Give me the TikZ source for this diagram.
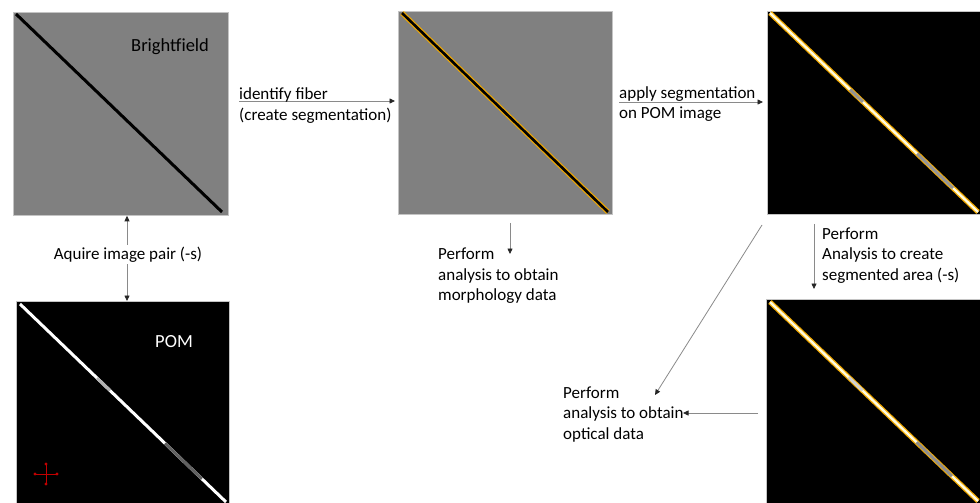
\documentclass[tikz,border=0pt]{standalone}
\usepackage{fontspec}
\setmainfont{Carlito}
\usetikzlibrary{arrows.meta,calc}
\definecolor{panelgray}{HTML}{808080}
\definecolor{framegray}{HTML}{C4C4C4}
\definecolor{segorange}{HTML}{F0A800}
\definecolor{coreyellow}{HTML}{FFFCE0}
\definecolor{arrowgray}{HTML}{8A8A8A}
\definecolor{crossred}{HTML}{C00000}
\begin{document}
\begin{tikzpicture}[x=1pt,y=-1pt,
  panel/.style={draw=framegray, line width=0.8pt, inner sep=0pt, anchor=north west},
  lbl/.style={font=\fontsize{17}{20.5}\selectfont, align=left, anchor=base west, inner sep=0pt},
  ttl/.style={font=\fontsize{18.5}{22}\selectfont, anchor=base west, inner sep=0pt},
  tip/.tip={Triangle[length=5.5pt,width=5pt,color=black!85]},
  arr/.style={draw=arrowgray, line width=0.8pt, -tip},
  fibout/.style={segorange, line width=5pt},
  fibcore/.style={coreyellow, line width=2.4pt},
  segcore/.style={line width=3pt},
]
\useasboundingbox (0,0) rectangle (980,503);

% panels
\node[panel, fill=panelgray, minimum width=215pt, minimum height=203pt] (bf) at (13,12) {};
\node[panel, fill=panelgray, minimum width=214pt, minimum height=203pt] (seg) at (398,11) {};
\node[panel, fill=black, minimum width=213pt, minimum height=203pt] (pomseg) at (767,11) {};
\node[panel, fill=black, minimum width=213pt, minimum height=202pt] (pom) at (16,301) {};
\node[panel, fill=black, minimum width=214pt, minimum height=204pt] (area) at (766,299) {};

% brightfield fiber
\draw[black, line width=3pt] (16,14) -- (222,212);

% segmented fiber
\draw[fibout] (402,13) -- (608,212);
\draw[black, line width=2.6pt] (402,13) -- (608,212);

% POM fiber
\coordinate (pa) at (20,304); \coordinate (pb) at (226,502);
\draw[white, line width=3pt] (pa) -- (pb);
\draw[black!30, line width=3pt] ($(pa)!0.374!(pb)$) -- ($(pa)!0.437!(pb)$);
\draw[black!62, line width=3pt] ($(pa)!0.704!(pb)$) -- ($(pa)!0.883!(pb)$);

% segmentation on POM
\coordinate (sa) at (770,13); \coordinate (sb) at (978,212);
\draw[fibout] (sa) -- (sb);
\draw[fibcore] (sa) -- (sb);
\draw[segcore, black!42] ($(sa)!0.385!(sb)$) -- ($(sa)!0.447!(sb)$);
\draw[segcore, black!42] ($(sa)!0.707!(sb)$) -- ($(sa)!0.880!(sb)$);

% segmented area
\coordinate (ta) at (770,302); \coordinate (tb) at (978,501);
\draw[fibout] (ta) -- (tb);
\draw[fibcore] (ta) -- (tb);
\draw[segcore, black!18] ($(ta)!0.378!(tb)$) -- ($(ta)!0.445!(tb)$);
\draw[segcore, black!45] ($(ta)!0.705!(tb)$) -- ($(ta)!0.875!(tb)$);

% crosshair
\draw[crossred, line width=0.9pt] (35,474) -- (57,474) (46,464) -- (46,484);
\foreach \p in {(35,474),(57,474),(46,464),(46,484)} \fill[crossred] \p circle (1.6pt);

% titles
\node[ttl, text=black] (bft) at (131,52) {Brightfield};
\node[ttl, text=white] (pomt) at (155,347) {POM};

% connectors
\coordinate (ax) at (127,0);
\draw[arr, tip-tip] (bf.south -| ax) -- (pom.north -| ax);
\node[lbl, fill=white, inner sep=2pt, anchor=base] (l0) at (128,259) {Aquire image pair (-s)};

\coordinate (a1s) at (239,101);
\draw[arr, shorten >=3pt] (a1s) -- (seg.west |- a1s);
\coordinate (a2s) at (619,102);
\draw[arr, shorten >=4pt] (a2s) -- (pomseg.west |- a2s);

\coordinate (a3e) at (510,254);
\draw[arr, shorten <=8pt] (seg.south -| a3e) -- (a3e);

\coordinate (a4) at (814,0);
\draw[arr, shorten <=9pt, shorten >=10pt] (pomseg.south -| a4) -- (area.north -| a4);

\coordinate (a5s) at (762,225); \coordinate (a5e) at (655,395);
\draw[arr] (a5s) -- (a5e);

\coordinate (a6e) at (683,413);
\draw[arr, shorten <=8pt] (area.west |- a6e) -- (a6e);

% labels (anchored at the baseline of their last line)
\node[lbl] (l1) at (239,120) {identify fiber\\(create segmentation)};
\node[lbl] (l2) at (619,118.5) {apply segmentation\\on POM image};
\node[lbl] (l3) at (438,300.5) {Perform\\analysis to obtain\\morphology data};
\node[lbl] (l4) at (822,280) {Perform\\Analysis to create\\segmented area (-s)};
\node[lbl] (l5) at (563,439) {Perform\\analysis to obtain\\optical data};
\end{tikzpicture}
\end{document}
